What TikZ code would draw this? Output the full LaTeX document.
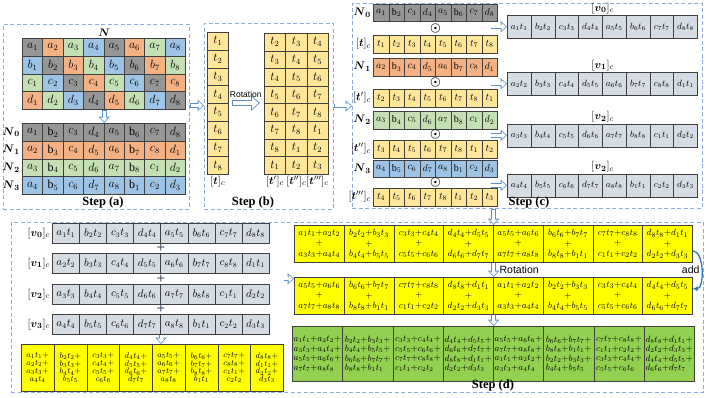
\documentclass[tikz,border=0pt]{standalone}
\usepackage{fontspec}
\usepackage{amsmath}
\usetikzlibrary{arrows.meta,calc,positioning}
\setmainfont{Liberation Serif}
\newfontfamily\notefont{Liberation Sans}

\definecolor{col0}{HTML}{969696}
\definecolor{col1}{HTML}{F4B183}
\definecolor{col2}{HTML}{C5E0B4}
\definecolor{col3}{HTML}{9DC3E6}
\definecolor{tyellow}{HTML}{FFE699}
\definecolor{vgray}{HTML}{D6DCE4}
\definecolor{sumyellow}{HTML}{FFFF00}
\definecolor{sumgreen}{HTML}{92D050}
\definecolor{dashblue}{HTML}{8FAADC}
\definecolor{arrowblue}{HTML}{5B8FC9}
\definecolor{addblue}{HTML}{2E75B6}
\definecolor{plusgray}{HTML}{44546A}

\newcommand{\letterof}[1]{\ifcase#1 a\or b\or c\or d\fi}
\newcommand{\letterN}[1]{\ifcase#1 a\or \mathrm{b}\or c\or d\fi}
\newcommand{\term}[2]{\letterof{#1}_{#2}t_{#2}}

\begin{document}
\begin{tikzpicture}[x=1pt, y=-1pt,
    cellbox/.style={draw=black!75, line width=0.6pt, inner sep=0pt, anchor=north west, align=center},
    acell/.style={cellbox, minimum width=20.4pt, minimum height=17.8pt, font=\fontsize{12}{13}\selectfont},
    bcell/.style={cellbox, fill=tyellow, minimum width=21pt, minimum height=17.75pt, font=\fontsize{12}{13}\selectfont},
    ccell/.style={cellbox, minimum width=15.5pt, minimum height=17.5pt, font=\fontsize{10}{11}\selectfont},
    vcell/.style={cellbox, fill=vgray, minimum width=23.75pt, minimum height=23pt, font=\fontsize{9}{10}\selectfont},
    dcell/.style={cellbox, fill=vgray, minimum width=27.1pt, minimum height=20pt, font=\fontsize{10.5}{11}\selectfont},
    lsum/.style={cellbox, fill=sumyellow, minimum width=32.75pt, minimum height=47pt, font=\fontsize{8.4}{7.9}\selectfont},
    rsum/.style={cellbox, fill=sumyellow, minimum width=49.75pt, minimum height=37pt, font=\fontsize{9.4}{10.5}\selectfont},
    gsum/.style={cellbox, fill=sumgreen, align=left, minimum width=50.25pt, minimum height=55pt, font=\fontsize{9}{9.4}\selectfont},
    stepbox/.style={draw=dashblue, dash pattern=on 4pt off 2.5pt, line width=0.9pt, inner sep=0pt, anchor=north west},
    steplabel/.style={font=\bfseries\fontsize{12.5}{14}\selectfont, inner sep=0pt},
    rowlabel/.style={font=\fontsize{11}{12}\selectfont, inner sep=1pt},
    notelabel/.style={font=\notefont\fontsize{8.5}{10}\selectfont, inner sep=0.5pt},
    plussign/.style={text=plusgray, font=\bfseries\fontsize{15}{15}\selectfont, inner sep=0pt},
    hollowarrow/.style={draw=white, line width=3pt, shorten <=0.8pt, shorten >=1.2pt,
        -{Triangle[length=4.2pt, width=7.4pt]},
        preaction={draw=arrowblue, line width=4.6pt, shorten <=0pt, shorten >=0pt, -{Triangle[length=6.4pt, width=11pt]}}},
    bighollow/.style={draw=white, line width=4.6pt, shorten <=0.9pt, shorten >=1.4pt,
        -{Triangle[length=6.6pt, width=11pt]},
        preaction={draw=arrowblue, line width=6.4pt, shorten <=0pt, shorten >=0pt, -{Triangle[length=9pt, width=15pt]}}},
    addarrow/.style={draw=addblue, line width=1.3pt, -{Latex[length=5pt, width=5pt]}}
]
\useasboundingbox (0,0) rectangle (706,397);

% Step (a)
\node[stepbox, minimum width=186pt, minimum height=185pt] (stepA) at (3,24) {};
\foreach \ri in {0,...,3}
  \foreach \ci in {0,...,7} {
    \pgfmathtruncatemacro{\k}{mod(\ci-\ri+8,4)}
    \pgfmathtruncatemacro{\nA}{\ci+1}
    \node[acell, fill=col\k] (g-\ri-\ci) at (22+20.4*\ci, 38+17.8*\ri) {$\letterof{\ri}_{\nA}$};
  }
\node[rowlabel, above=0pt of g-0-3.north east] (Nlabel) {$\boldsymbol{N}$};
\foreach \ri in {0,...,3} {
  \foreach \ci in {0,...,7} {
    \pgfmathtruncatemacro{\m}{mod(\ci,4)}
    \pgfmathtruncatemacro{\nA}{mod(\ci+\ri,8)+1}
    \node[acell, fill=col\ri] (n-\ri-\ci) at (22+20.4*\ci, 123+17.8*\ri) {$\letterN{\m}_{\nA}$};
  }
  \node[rowlabel, left=1pt of n-\ri-0] (nl-\ri) {$\boldsymbol{N}_{\boldsymbol{\ri}}$};
}
\draw[hollowarrow] (g-3-3.south east) -- (n-0-3.north east);
\node[steplabel] (labA) at (103,202) {Step (a)};

% Step (b)
\node[stepbox, minimum width=129pt, minimum height=186pt] (stepB) at (204,23) {};
\foreach \ri in {0,...,7} {
  \pgfmathtruncatemacro{\nA}{\ri+1}
  \node[bcell] (tc-\ri) at (207, 32+17.75*\ri) {$t_{\nA}$};
}
\node[rowlabel, below=0pt of tc-7] (tcl) {$[\boldsymbol{t}]_c$};
\foreach \ci in {0,1,2}
  \foreach \ri in {0,...,7} {
    \pgfmathtruncatemacro{\nA}{mod(\ri+\ci+1,8)+1}
    \node[bcell, minimum width=21.3pt, minimum height=17.6pt] (tr-\ci-\ri) at (264+21.3*\ci, 33+17.6*\ri) {$t_{\nA}$};
  }
\node[rowlabel, below=0pt of tr-0-7] (trl-0) {$[\boldsymbol{t}']_c$};
\node[rowlabel, below=0pt of tr-1-7] (trl-1) {$[\boldsymbol{t}'']_c$};
\node[rowlabel, below=0pt of tr-2-7] (trl-2) {$[\boldsymbol{t}''']_c$};
\draw[bighollow] ([xshift=3pt]tc-4.north east) -- node[notelabel, above=3pt] (rotB) {Rotation} ([xshift=-4pt]tc-4.north east -| tr-0-4.west);
\node[steplabel] (labB) at (253,202) {Step (b)};
\draw[hollowarrow] ([yshift=11.5pt]stepA.east) -- ([yshift=11.5pt]stepA.east -| stepB.west);

% Step (c)
\node[stepbox, minimum width=350pt, minimum height=205pt] (stepC) at (352,3) {};
\foreach \k/\yN/\yT/\pr in {0/3.5/35/{}, 1/58/89/', 2/111/140/'', 3/159.5/188/'''} {
  \foreach \ci in {0,...,7} {
    \pgfmathtruncatemacro{\m}{mod(\ci,4)}
    \pgfmathtruncatemacro{\nA}{mod(\ci+\k,8)+1}
    \node[ccell, fill=col\k] (cN\k-\ci) at (373+15.5*\ci, \yN) {$\letterN{\m}_{\nA}$};
    \node[ccell, fill=tyellow] (cT\k-\ci) at (373+15.5*\ci, \yT) {$t_{\nA}$};
  }
  \node[font=\fontsize{12}{12}\selectfont, inner sep=0pt] (odot\k) at ($(cN\k-3.south east)!0.5!(cT\k-3.north east)$) {$\boldsymbol{\odot}$};
  \node[rowlabel, left=1pt of cN\k-0] (cNl\k) {$\boldsymbol{N}_{\boldsymbol{\k}}$};
  \node[rowlabel, left=1pt of cT\k-0] (cTl\k) {$[\boldsymbol{t}\pr]_c$};
}
\foreach \k/\yv/\lab in {0/15/0, 1/72/1, 2/123.5/2, 3/173.5/2} {
  \foreach \ci in {0,...,7} {
    \pgfmathtruncatemacro{\m}{mod(\ci,4)}
    \pgfmathtruncatemacro{\nA}{mod(\ci+\k,8)+1}
    \node[vcell] (cV\k-\ci) at (507+23.75*\ci, \yv) {$\term{\m}{\nA}$};
  }
  \node[rowlabel, above=0pt of cV\k-3.north east] (cVl\k) {$[\boldsymbol{v}_{\boldsymbol{\lab}}]_c$};
  \draw[hollowarrow] ([xshift=-7pt]cN\k-7.east |- cV\k-0.west) -- (cV\k-0.west);
}
\node[steplabel] (labC) at (529,202) {Step (c)};
\draw[hollowarrow] (stepB.east |- stepC.west) -- (stepC.west);

% Step (d)
\node[stepbox, minimum width=692pt, minimum height=170pt] (stepD) at (11,222) {};
\foreach \k/\yv in {0/223, 1/253, 2/284, 3/314} {
  \foreach \ci in {0,...,7} {
    \pgfmathtruncatemacro{\m}{mod(\ci,4)}
    \pgfmathtruncatemacro{\nA}{mod(\ci+\k,8)+1}
    \node[dcell] (dV\k-\ci) at (52+27.1*\ci, \yv) {$\term{\m}{\nA}$};
  }
  \node[rowlabel, left=1pt of dV\k-0] (dVl\k) {$[\boldsymbol{v}_{\boldsymbol{\k}}]_c$};
}
\foreach \k in {0,1,2} {
  \pgfmathtruncatemacro{\kk}{\k+1}
  \node[plussign] (plus\k) at ($(dV\k-3.south east)!0.5!(dV\kk-3.north east)$) {+};
}
\foreach \ci in {0,...,7} {
  \pgfmathtruncatemacro{\m}{mod(\ci,4)}
  \pgfmathtruncatemacro{\nA}{mod(\ci,8)+1}
  \pgfmathtruncatemacro{\nB}{mod(\ci+1,8)+1}
  \pgfmathtruncatemacro{\nC}{mod(\ci+2,8)+1}
  \pgfmathtruncatemacro{\nD}{mod(\ci+3,8)+1}
  \pgfmathtruncatemacro{\nE}{mod(\ci+4,8)+1}
  \pgfmathtruncatemacro{\nF}{mod(\ci+5,8)+1}
  \pgfmathtruncatemacro{\nG}{mod(\ci+6,8)+1}
  \pgfmathtruncatemacro{\nH}{mod(\ci+7,8)+1}
  \node[lsum] (sumL-\ci) at (21+32.75*\ci, 344) {$\term{\m}{\nA}+$\\$\term{\m}{\nB}+$\\$\term{\m}{\nC}+$\\$\term{\m}{\nD}$};
  \node[rsum] (rA-\ci) at (294+49.75*\ci, 225) {$\term{\m}{\nA}{+}\term{\m}{\nB}$\\$+$\\$\term{\m}{\nC}{+}\term{\m}{\nD}$};
  \node[rsum] (rB-\ci) at (294+49.75*\ci, 277) {$\term{\m}{\nE}{+}\term{\m}{\nF}$\\$+$\\$\term{\m}{\nG}{+}\term{\m}{\nH}$};
  \node[gsum] (gr-\ci) at (292+50.25*\ci, 326) {$\term{\m}{\nA}{+}\term{\m}{\nB}{+}$\\$\term{\m}{\nC}{+}\term{\m}{\nD}{+}$\\$\term{\m}{\nE}{+}\term{\m}{\nF}{+}$\\$\term{\m}{\nG}{+}\term{\m}{\nH}$};
}
\draw[hollowarrow] (dV3-3.south east) -- (dV3-3.south east |- sumL-0.north);
\draw[hollowarrow] (sumL-7.east |- plus1) -- (rA-0.west |- plus1);
\draw[hollowarrow] (rA-3.north east |- stepC.south) -- (rA-3.north east);
\draw[hollowarrow] (rA-3.south east) -- node[notelabel, right=4pt, font=\notefont\fontsize{10.5}{12}\selectfont] (rotD) {Rotation} (rB-3.north east);
\draw[hollowarrow] (rB-3.south east) -- (rB-3.south east |- gr-4.north);
\draw[addarrow] ([yshift=-7pt]rA-7.east) to[out=0, in=0, distance=12pt] node[notelabel, anchor=east, xshift=-1pt, font=\notefont\fontsize{10.5}{12}\selectfont] (addlabel) {add} ([yshift=7pt]rB-7.east);
\node[steplabel] (labD) at (493,385) {Step (d)};

\end{tikzpicture}
\end{document}
